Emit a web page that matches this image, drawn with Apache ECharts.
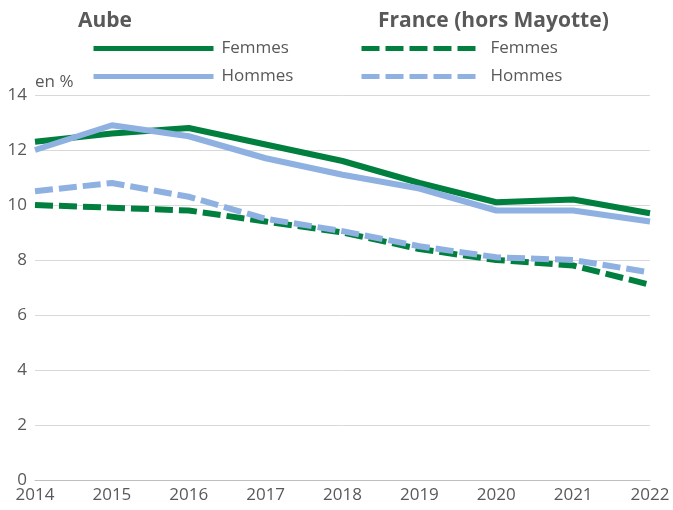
<!DOCTYPE html>
<html>
<head>
<meta charset="utf-8">
<script src="https://cdn.jsdelivr.net/npm/echarts@6/dist/echarts.min.js"></script>
<style>
  html, body { margin: 0; padding: 0; background: #fff; }
  #chart { width: 673px; height: 510px; }
</style>
</head>
<body>
<div id="chart"></div>
<script>
const years = ['2014', '2015', '2016', '2017', '2018', '2019', '2020', '2021', '2022']
const aubeFemmes = [12.3, 12.6, 12.8, 12.2, 11.6, 10.8, 10.1, 10.2, 9.7]
const aubeHommes = [12.0, 12.9, 12.5, 11.7, 11.1, 10.6, 9.8, 9.8, 9.4]
const franceFemmes = [10.0, 9.9, 9.8, 9.4, 9.0, 8.4, 8.0, 7.8, 7.1]
const franceHommes = [10.5, 10.8, 10.3, 9.5, 9.05, 8.5, 8.1, 8.0, 7.55]

const green = '#007f3f'
const blue = '#8eb1e2'
const grey = '#595959'
const font = 'Open Sans'

function line(name, data, color, dashed) {
  return {
    name: name,
    type: 'line',
    data: data,
    symbol: 'none',
    color: color,
    lineStyle: { width: 6, color: color, type: dashed ? [18, 6] : 'solid', cap: 'butt' },
    z: 2
  }
}

function legend(left, names, width, gap) {
  return {
    left: left,
    top: 35,
    orient: 'vertical',
    itemWidth: width,
    itemHeight: 14,
    itemGap: 11,
    data: names,
    formatter: n => n.split(' ')[1],
    itemStyle: { opacity: 0 },
    lineStyle: { width: 5 },
    textStyle: { fontFamily: font, fontSize: 17, color: grey, padding: [0, 0, 0, gap] },
    selectedMode: false
  }
}

const chart = echarts.init(document.getElementById('chart'))
chart.setOption({
  animation: false,
  textStyle: { fontFamily: font },
  title: [
    { text: 'Aube', left: 73, top: 6, textStyle: { fontFamily: font, fontSize: 21, fontWeight: 'bold', color: grey } },
    { text: 'France (hors Mayotte)', left: 373, top: 6, textStyle: { fontFamily: font, fontSize: 21, fontWeight: 'bold', color: grey } }
  ],
  legend: [
    legend(86, ['Aube Femmes', 'Aube Hommes'], 120, 3),
    legend(354, ['France Femmes', 'France Hommes'], 114, 10)
  ],
  grid: { left: 35, right: 23, top: 95, bottom: 30, containLabel: false },
  xAxis: {
    type: 'category',
    data: years,
    boundaryGap: false,
    axisLine: { show: true, lineStyle: { color: '#bfbfbf', width: 1 } },
    axisTick: { show: false },
    axisLabel: { fontFamily: font, fontSize: 17, color: grey, margin: 7 }
  },
  yAxis: {
    type: 'value',
    min: 0,
    max: 14,
    interval: 2,
    name: 'en %',
    nameGap: 13,
    nameTextStyle: { fontFamily: font, fontSize: 17, color: grey, align: 'left', verticalAlign: 'middle' },
    axisLine: { show: false },
    axisTick: { show: false },
    axisLabel: { fontFamily: font, fontSize: 17, color: grey, margin: 8 },
    splitLine: { lineStyle: { color: '#d9d9d9', width: 1 } }
  },
  series: [
    line('Aube Femmes', aubeFemmes, green, false),
    line('Aube Hommes', aubeHommes, blue, false),
    line('France Femmes', franceFemmes, green, true),
    line('France Hommes', franceHommes, blue, true)
  ]
})
</script>
</body>
</html>
